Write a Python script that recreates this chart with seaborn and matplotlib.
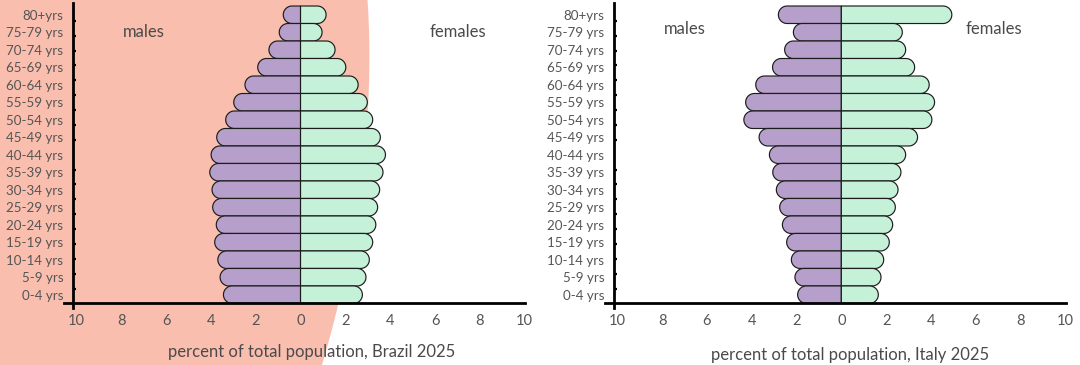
import numpy as np
import pandas as pd
import matplotlib
matplotlib.use("Agg")
import matplotlib.pyplot as plt
import seaborn as sns
from matplotlib.path import Path
from matplotlib.patches import PathPatch

# ---------------- data ----------------
ages = ["80+yrs", "75-79 yrs", "70-74 yrs", "65-69 yrs", "60-64 yrs", "55-59 yrs",
        "50-54 yrs", "45-49 yrs", "40-44 yrs", "35-39 yrs", "30-34 yrs", "25-29 yrs",
        "20-24 yrs", "15-19 yrs", "10-14 yrs", "5-9 yrs", "0-4 yrs"]

brazil_male = [0.77, 0.95, 1.41, 1.91, 2.48, 2.98, 3.34, 3.74, 3.99, 4.05,
               3.95, 3.92, 3.76, 3.83, 3.69, 3.59, 3.44]
brazil_female = [1.14, 0.96, 1.54, 2.02, 2.57, 2.98, 3.22, 3.56, 3.79, 3.68,
                 3.53, 3.44, 3.36, 3.22, 3.07, 2.92, 2.76]

italy_male = [2.81, 2.14, 2.53, 3.07, 3.82, 4.27, 4.35, 3.67, 3.21, 3.06,
              2.90, 2.75, 2.63, 2.44, 2.23, 2.07, 1.95]
italy_female = [4.93, 2.72, 2.87, 3.27, 3.92, 4.16, 4.04, 3.40, 2.87, 2.66,
                2.53, 2.41, 2.29, 2.14, 1.89, 1.77, 1.65]

x_ticks = [-10, -8, -6, -4, -2, 0, 2, 4, 6, 8, 10]
x_tick_labels = ["10", "8", "6", "4", "2", "0", "2", "4", "6", "8", "10"]

titles = ["percent of total population, Brazil 2025",
          "percent of total population, Italy 2025"]

# ---------------- style ----------------
PURPLE = "#B79FCC"
GREEN = "#C6F1D9"
SALMON = "#F9BEAE"
EDGE = "#1c1c1c"
TEXT = "#4a4a4a"
TICK = "#555555"

sns.set_theme(style="white")
plt.rcParams["font.family"] = ["Lato", "DejaVu Sans"]

W, H = 1080, 365
fig = plt.figure(figsize=(W / 100, H / 100), dpi=100)
fig.patch.set_facecolor("white")

# decorative background blob (pixel coords, origin top-left)
blob_pts = [(-5, -5), (367.3, -5), (367.5, 0),
            (376, 120), (356, 250), (322, 365),
            (319, 372), (-5, 372), (-5, -5)]
blob_codes = [Path.MOVETO, Path.LINETO, Path.LINETO,
              Path.CURVE4, Path.CURVE4, Path.CURVE4,
              Path.LINETO, Path.LINETO, Path.CLOSEPOLY]
blob_path = Path([(x / W, 1 - y / H) for x, y in blob_pts], blob_codes)
fig.add_artist(PathPatch(blob_path, transform=fig.transFigure,
                         facecolor=SALMON, edgecolor="none", zorder=-5))


def round_bars(ax):
    """Replace seaborn's rectangles with bars that have a rounded outer end."""
    p0 = ax.transData.transform((0, 0))
    p1 = ax.transData.transform((1, 1))
    sx = abs(p1[0] - p0[0])
    sy = abs(p1[1] - p0[1])
    for rect in list(ax.patches):
        x, w = rect.get_x(), rect.get_width()
        y, h = rect.get_y(), rect.get_height()
        fc = rect.get_facecolor()
        rect.remove()
        if w == 0 or np.isnan(w):
            continue
        a, b = x, x + w
        xi, xo = (a, b) if abs(a) <= abs(b) else (b, a)
        d = np.sign(xo - xi)
        ry = abs(h) / 2
        rx = ry * sy / sx
        yc = y + h / 2
        xc = xo - d * rx
        th = np.linspace(-np.pi / 2, np.pi / 2, 40)
        arc = [(xc + d * rx * np.cos(t), yc + ry * np.sin(t)) for t in th]
        verts = [(xi, yc - ry)] + arc + [(xi, yc + ry), (xi, yc - ry)]
        codes = [Path.MOVETO] + [Path.LINETO] * (len(verts) - 2) + [Path.CLOSEPOLY]
        ax.add_patch(PathPatch(Path(verts, codes), facecolor=fc, edgecolor=EDGE,
                               linewidth=0.85, zorder=2))


panels = [
    dict(left=64.1, male=brazil_male, female=brazil_female, title=titles[0],
         label_x=0.538, label_y=-0.160, lab_x=(-7, 7), lab_y=1.26),
    dict(left=604.9, male=italy_male, female=italy_female, title=titles[1],
         label_x=0.532, label_y=-0.171, lab_x=(-7, 6.8), lab_y=1.10),
]

ax_w, ax_h, ax_bottom = 461, 304.7, 57
minor_y = np.linspace(-0.5, 16.5, 21)[1:-1]

for p in panels:
    ax = fig.add_axes([p["left"] / W, ax_bottom / H, ax_w / W, ax_h / H])
    ax.set_facecolor("none")
    df = pd.DataFrame({
        "age": ages * 2,
        "value": [-v for v in p["male"]] + list(p["female"]),
        "sex": ["male"] * len(ages) + ["female"] * len(ages),
    })
    sns.barplot(data=df, x="value", y="age", hue="sex", order=ages,
                hue_order=["male", "female"],
                palette={"male": PURPLE, "female": GREEN}, saturation=1,
                orient="h", width=1.0, dodge=False, errorbar=None,
                legend=False, ax=ax)
    ax.set_xlim(-10.55, 10.02)
    ax.set_ylim(16.76, -0.655)

    for s in ["top", "right"]:
        ax.spines[s].set_visible(False)
    ax.spines["left"].set_position(("data", -10.15))
    ax.spines["bottom"].set_position(("data", 16.5))
    for s in ["left", "bottom"]:
        ax.spines[s].set_linewidth(2.0)
        ax.spines[s].set_color("black")
        ax.spines[s].set_zorder(3)

    ax.set_xticks(x_ticks)
    ax.set_xticklabels(x_tick_labels)
    ax.tick_params(axis="x", length=0, pad=7.5, labelsize=10.5, labelcolor=TICK)
    ax.tick_params(axis="y", which="major", length=0, pad=7, labelsize=9.6,
                   labelcolor=TICK)
    ax.set_yticks(minor_y, minor=True)
    ax.tick_params(axis="y", which="minor", left=True, direction="in",
                   length=2.5, width=1.6, color="black")

    ax.set_ylabel("")
    ax.set_xlabel(p["title"], fontsize=12, color=TEXT)
    ax.xaxis.label.set_va("baseline")
    ax.xaxis.set_label_coords(p["label_x"], p["label_y"])

    ax.text(p["lab_x"][0], p["lab_y"], "males", ha="center", va="baseline",
            fontsize=12, color=TEXT)
    ax.text(p["lab_x"][1], p["lab_y"], "females", ha="center", va="baseline",
            fontsize=12, color=TEXT)

    round_bars(ax)

fig.savefig("out.png", dpi=100, facecolor=fig.get_facecolor())
